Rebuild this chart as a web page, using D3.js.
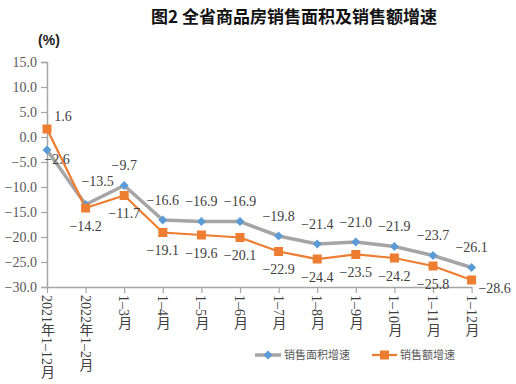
<!DOCTYPE html>
<html>
<head>
<meta charset="utf-8">
<script src="https://cdn.jsdelivr.net/npm/d3@7"></script>
<style>
  body { margin: 0; background: #fff; }
  svg { display: block; }
</style>
</head>
<body>
<svg class="chart" width="516" height="384"></svg>
<script>
const categories = ['2021年1–12月', '2022年1–2月', '1–3月', '1–4月', '1–5月', '1–6月',
    '1–7月', '1–8月', '1–9月', '1–10月', '1–11月', '1–12月'];
const areaGrowth = [-2.6, -13.5, -9.7, -16.6, -16.9, -16.9, -19.8, -21.4, -21.0, -21.9, -23.7, -26.1];
const salesGrowth = [1.6, -14.2, -11.7, -19.1, -19.6, -20.1, -22.9, -24.4, -23.5, -24.2, -25.8, -28.6];
const yTicks = [15, 10, 5, 0, -5, -10, -15, -20, -25, -30];
const seriesNames = ['销售面积增速', '销售额增速'];

// label nudges where the labels don't sit straight above / below the point
const areaLabelShift = { 0: [10, 29], 1: [12, -3] };
const salesLabelShift = { 0: [16, -31], 11: [23, -10] };

const serif = '"Liberation Serif", "Noto Sans CJK SC", serif';
const cjk = '"Noto Sans CJK SC", sans-serif';
const axisColor = '#a6a6a6';
const textColor = '#404040';

var svg = d3.select('.chart');

var x = d3.scalePoint()
    .domain(categories)
    .range([47, 471.6]);

var y = d3.scaleLinear()
    .domain([-30, 15])
    .range([287, 62]);

// title
svg.append('text')
    .attr('x', 294)
    .attr('y', 23)
    .attr('text-anchor', 'middle')
    .style('font-family', cjk)
    .style('font-weight', 'bold')
    .style('font-size', '17px')
    .style('fill', '#111')
    .text('图2 全省商品房销售面积及销售额增速');

svg.append('text')
    .attr('x', 49)
    .attr('y', 45)
    .attr('text-anchor', 'middle')
    .style('font-family', '"Liberation Sans", sans-serif')
    .style('font-weight', 'bold')
    .style('font-size', '14px')
    .style('fill', '#222')
    .text('(%)');

// y axis
var yAxis = svg.append('g')
    .attr('transform', 'translate(47,0)')
    .call(d3.axisLeft(y).tickValues(yTicks).tickSize(6).tickPadding(4).tickFormat(d3.format('.1f')));

yAxis.select('.domain').attr('stroke', axisColor).attr('stroke-width', 1.5);
yAxis.selectAll('.tick line').attr('stroke', axisColor).attr('stroke-width', 1.2);
yAxis.selectAll('.tick text')
    .text(d => d3.format('.1f')(d).replace('-', '−'))
    .style('font-family', serif)
    .style('font-size', '14px')
    .style('fill', '#595959');

// x axis
var xAxis = svg.append('g')
    .attr('transform', 'translate(0,' + y(-30) + ')')
    .call(d3.axisBottom(x).tickSize(6).tickSizeOuter(0).tickFormat(''));

xAxis.select('.domain').attr('stroke', axisColor).attr('stroke-width', 1.5);
xAxis.selectAll('.tick line').attr('stroke', axisColor).attr('stroke-width', 1.2);

xAxis.selectAll('.tick')
    .append('text')
    .attr('x', -1)
    .attr('y', 8)
    .style('writing-mode', 'vertical-rl')
    .style('font-family', serif)
    .style('font-size', '14px')
    .style('fill', textColor)
    .attr('text-anchor', 'start')
    .text(d => d);

// lines
var line = d3.line()
    .x((d, i) => x(categories[i]))
    .y(d => y(d));

svg.append('path')
    .datum(areaGrowth)
    .attr('fill', 'none')
    .attr('stroke', '#a5a5a5')
    .attr('stroke-width', 3.5)
    .attr('d', line);

svg.append('path')
    .datum(salesGrowth)
    .attr('fill', 'none')
    .attr('stroke', '#ed7d31')
    .attr('stroke-width', 2.25)
    .attr('d', line);

var diamond = d3.symbol().type(d3.symbolSquare).size(40);

svg.selectAll('.area-dot')
    .data(areaGrowth)
    .enter().append('path')
    .attr('class', 'area-dot')
    .attr('d', diamond)
    .attr('transform', (d, i) => 'translate(' + x(categories[i]) + ',' + y(d) + ') rotate(45)')
    .attr('fill', '#5b9bd5');

svg.selectAll('.sales-dot')
    .data(salesGrowth)
    .enter().append('rect')
    .attr('class', 'sales-dot')
    .attr('x', (d, i) => x(categories[i]) - 4.5)
    .attr('y', d => y(d) - 4.5)
    .attr('width', 9)
    .attr('height', 9)
    .attr('fill', '#ed7d31');

// data labels
function fmt(v) {
    return v.toFixed(1).replace('-', '−');
}

svg.selectAll('.area-label')
    .data(areaGrowth)
    .enter().append('text')
    .attr('class', 'area-label')
    .attr('x', (d, i) => x(categories[i]) + (areaLabelShift[i] ? areaLabelShift[i][0] : 0))
    .attr('y', (d, i) => y(d) - 20 + (areaLabelShift[i] ? areaLabelShift[i][1] : 0))
    .attr('dy', '0.35em')
    .attr('text-anchor', 'middle')
    .style('font-family', serif)
    .style('font-size', '14px')
    .style('fill', textColor)
    .text(fmt);

svg.selectAll('.sales-label')
    .data(salesGrowth)
    .enter().append('text')
    .attr('class', 'sales-label')
    .attr('x', (d, i) => x(categories[i]) + (salesLabelShift[i] ? salesLabelShift[i][0] : 0))
    .attr('y', (d, i) => y(d) + 18 + (salesLabelShift[i] ? salesLabelShift[i][1] : 0))
    .attr('dy', '0.35em')
    .attr('text-anchor', 'middle')
    .style('font-family', serif)
    .style('font-size', '14px')
    .style('fill', textColor)
    .text(fmt);

// legend
var legend = svg.append('g').attr('transform', 'translate(0,355)');

legend.append('line')
    .attr('x1', 255).attr('x2', 281)
    .attr('stroke', '#a5a5a5').attr('stroke-width', 3.5);
legend.append('path')
    .attr('d', diamond)
    .attr('transform', 'translate(268,0) rotate(45)')
    .attr('fill', '#5b9bd5');
legend.append('text')
    .attr('x', 284).attr('dy', '0.35em')
    .style('font-family', cjk).style('font-size', '11px').style('fill', '#595959')
    .text(seriesNames[0]);

legend.append('line')
    .attr('x1', 372).attr('x2', 397)
    .attr('stroke', '#ed7d31').attr('stroke-width', 2.25);
legend.append('rect')
    .attr('x', 380).attr('y', -4.5).attr('width', 9).attr('height', 9)
    .attr('fill', '#ed7d31');
legend.append('text')
    .attr('x', 400).attr('dy', '0.35em')
    .style('font-family', cjk).style('font-size', '11px').style('fill', '#595959')
    .text(seriesNames[1]);
</script>
</body>
</html>
